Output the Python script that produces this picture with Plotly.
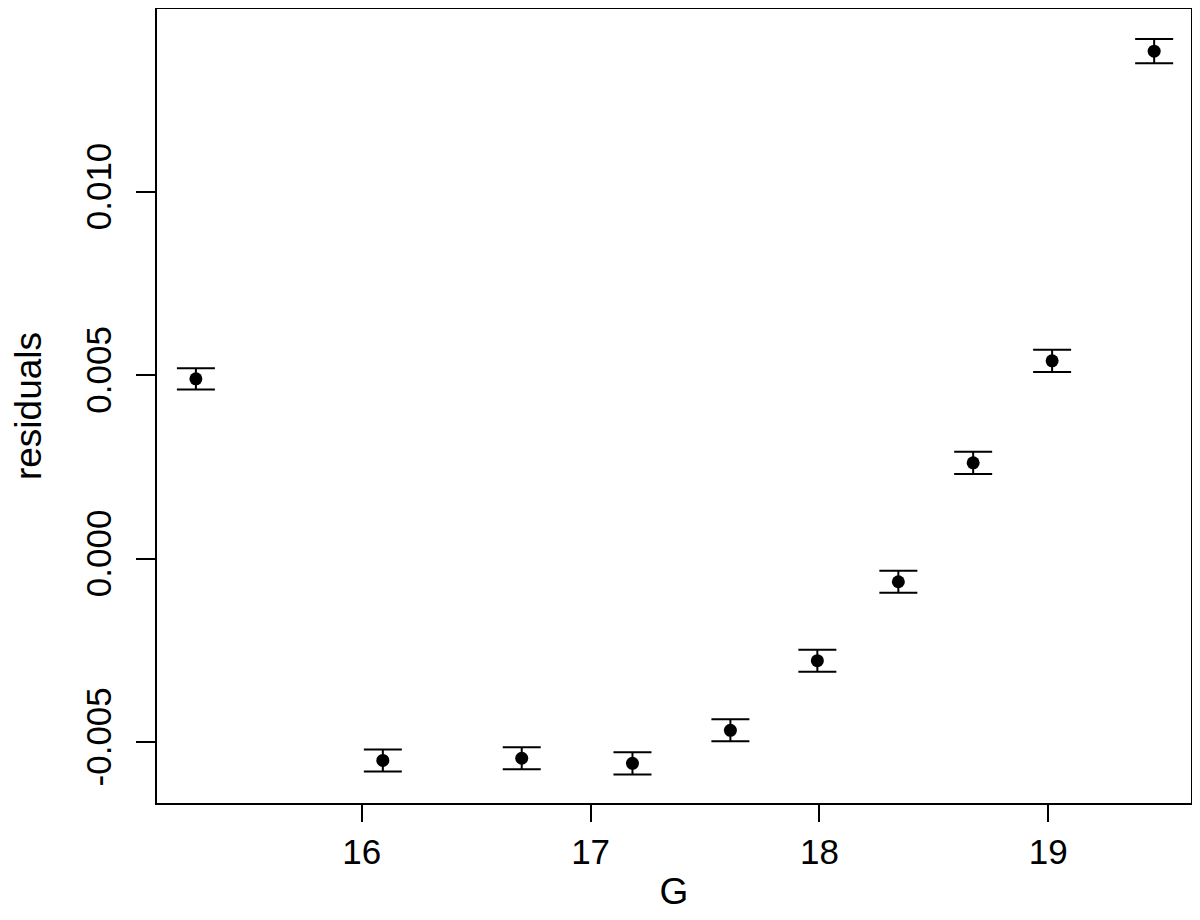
import plotly.graph_objects as go

G = [15.275, 16.092, 16.699, 17.183, 17.611, 17.991, 18.345, 18.672, 19.017, 19.463]
residuals = [0.00490, -0.00550, -0.00544, -0.00558, -0.00468, -0.00278, -0.00063, 0.00261, 0.00539, 0.01383]
err = [0.00029, 0.00030, 0.00030, 0.00030, 0.00030, 0.00030, 0.00030, 0.00030, 0.00030, 0.00033]

x_ticks = [16, 17, 18, 19]
y_ticks = [-0.005, 0.000, 0.005, 0.010]
y_ticklabels = ["-0.005", "0.000", "0.005", "0.010"]

font = "Liberation Sans, Arial, Helvetica, sans-serif"

fig = go.Figure()
fig.add_trace(go.Scatter(
    x=G, y=residuals, mode="markers",
    marker=dict(color="black", size=13),
    error_y=dict(type="data", array=err, visible=True, color="black", thickness=2, width=19),
    showlegend=False,
))

fig.update_layout(
    width=1184, height=904,
    margin=dict(l=149, r=1, t=1, b=109),
    paper_bgcolor="white", plot_bgcolor="white",
    font=dict(family=font, color="black"),
    xaxis=dict(
        range=[15.105, 19.624], tickvals=x_ticks, ticktext=[str(v) for v in x_ticks],
        showgrid=False, zeroline=False, showline=True, linecolor="black", linewidth=2, mirror=True,
        ticks="outside", ticklen=17, tickwidth=2, tickcolor="black",
        tickfont=dict(size=35), automargin=False,
        title=dict(text="G", font=dict(size=37), standoff=28),
    ),
    yaxis=dict(
        range=[-0.00666, 0.01498], tickvals=y_ticks, ticktext=y_ticklabels,
        showgrid=False, zeroline=False, showline=True, linecolor="black", linewidth=2, mirror=True,
        ticks="outside", ticklen=19, tickwidth=2, tickcolor="black",
        tickangle=-90, tickfont=dict(size=35), ticklabelstandoff=11, automargin=False,
        title=dict(text="residuals", font=dict(size=37), standoff=41),
    ),
)

fig.write_html("out.html")
